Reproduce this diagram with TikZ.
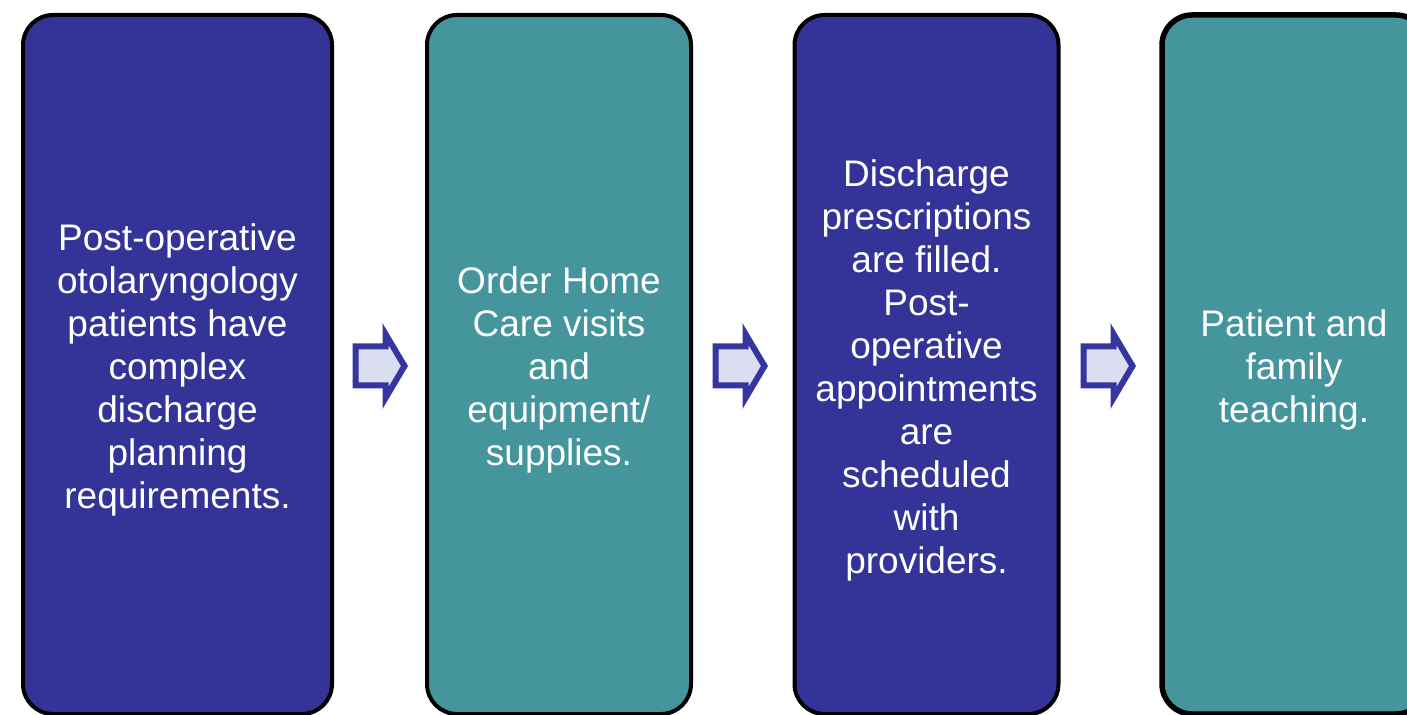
\documentclass[tikz,border=0pt]{standalone}
\usepackage{fontspec}
\setmainfont{Liberation Sans}
\usepackage{xcolor}
\usetikzlibrary{positioning, calc}
\definecolor{planblue}{HTML}{343397}
\definecolor{planteal}{HTML}{45969C}
\definecolor{arrowfill}{HTML}{DADEF0}
\definecolor{arrowline}{HTML}{3535A0}
\newcommand{\topgap}{\rule{0pt}{19pt}}
\tikzset{
  stagebox/.style={draw=black, line width=2pt, rounded corners=15pt,
    minimum height=349.5pt, inner sep=0pt, text=white, align=center,
    font=\fontsize{18.5}{21.5}\selectfont},
  flowarrow/.pic={
    \draw[line width=3pt, line join=miter, draw=arrowline, fill=arrowfill]
      (-25.5,-19.5) -- (4.5,-19.5) -- (4.5,-32) -- (23.5,0)
      -- (4.5,32) -- (4.5,19.5) -- (-25.5,19.5) -- cycle;
  }
}

\begin{document}
\begin{tikzpicture}[x=0.5pt, y=-0.5pt]
  \useasboundingbox (0,0) rectangle (1407,715);
  % stages, 1px = 0.5pt, y grows downwards
  \node[stagebox, fill=planblue, minimum width=154.5pt] (plan) at (177.5,364.5)
    {\topgap Post-operative\\otolaryngology\\patients have\\complex\\discharge\\planning\\requirements.};
  \node[stagebox, fill=planteal, minimum width=132pt] (homecare) at (559,364.5)
    {\topgap Order Home\\Care visits\\and\\equipment/\\supplies.};
  \node[stagebox, fill=planblue, minimum width=132pt] (rx) at (926.5,364.5)
    {\topgap Discharge\\prescriptions\\are filled.\\Post-\\operative\\appointments\\are\\scheduled\\with\\providers.};
  \node[stagebox, fill=planteal, minimum width=132pt, line width=2.75pt] (teach) at (1294,364.5)
    {\topgap Patient and\\family\\teaching.};
  % arrows between stages
  \coordinate (a1) at (381,366);
  \coordinate (a2) at (741,366);
  \coordinate (a3) at (1109,366);
  \foreach \a in {a1,a2,a3}
    \pic at (\a) {flowarrow};
\end{tikzpicture}
\end{document}
